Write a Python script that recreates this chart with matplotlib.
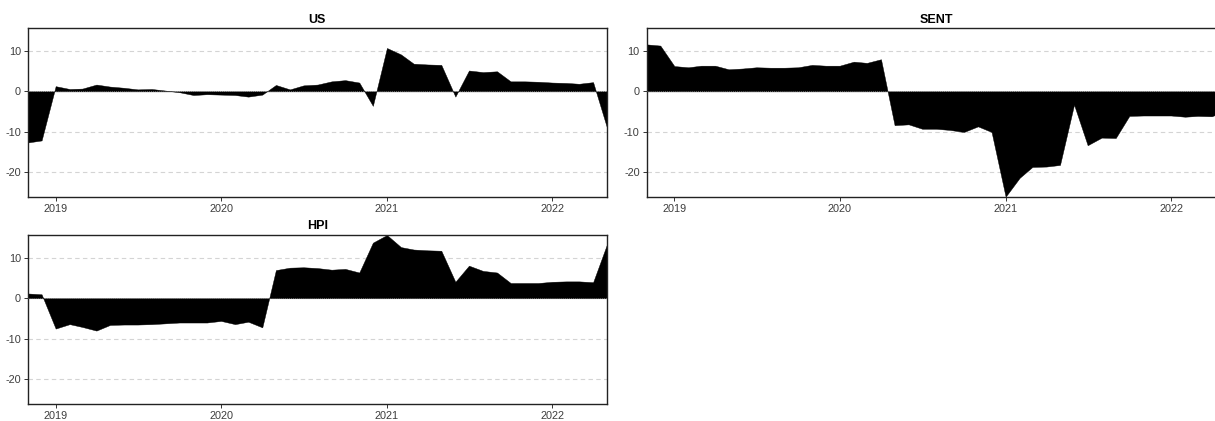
import numpy as np
import pandas as pd
import matplotlib
matplotlib.use("Agg")
import matplotlib.pyplot as plt
import matplotlib.dates as mdates

plt.rcParams['font.family'] = ['Liberation Sans', 'DejaVu Sans']
plt.rcParams['axes.unicode_minus'] = False

# monthly values, Nov 2018 .. May 2022
months = pd.date_range("2018-11-01", "2022-05-01", freq="MS")

us = [-12.7, -12.2, 1.3, 0.6, 0.7, 1.7, 1.2, 0.9, 0.5, 0.6, 0.2, -0.2,
      -0.9, -0.7, -0.8, -0.9, -1.3, -0.8, 1.6, 0.5, 1.5, 1.7, 2.5, 2.8,
      2.2, -3.6, 10.8, 9.2, 6.9, 6.7, 6.6, -1.3, 5.2, 4.8, 5.0, 2.5,
      2.5, 2.4, 2.2, 2.1, 1.9, 2.3, -8.8]

sent = [11.7, 11.4, 6.3, 6.0, 6.4, 6.4, 5.5, 5.7, 6.0, 5.9, 5.9, 6.0,
        6.6, 6.4, 6.4, 7.4, 7.1, 8.0, -8.4, -8.2, -9.3, -9.3, -9.6, -10.1,
        -8.7, -10.1, -26.2, -21.5, -18.8, -18.7, -18.3, -3.3, -13.4, -11.5, -11.6, -6.1,
        -6.0, -6.0, -6.0, -6.3, -6.1, -6.2, -4.8]

hpi = [1.2, 1.0, -7.5, -6.4, -7.1, -8.0, -6.6, -6.5, -6.5, -6.4, -6.2, -6.0,
       -6.0, -6.0, -5.6, -6.4, -5.8, -7.2, 7.0, 7.6, 7.7, 7.5, 7.1, 7.3,
       6.4, 13.8, 15.7, 12.7, 12.1, 11.9, 11.8, 4.1, 8.1, 6.8, 6.4, 3.8,
       3.8, 3.8, 4.1, 4.2, 4.2, 4.0, 13.2]

titles = ["US", "SENT", "HPI"]
series = [us, sent, hpi]
yticks = [-20, -10, 0, 10]

W, H = 1215, 421
fig = plt.figure(figsize=(W / 100, H / 100), dpi=100)

# axes boxes in pixels: left, top, right, bottom (SENT runs past the right edge)
boxes = [(28, 28.3, 606.7, 196.7),
         (646.7, 28.3, 1225.4, 196.7),
         (28, 235, 606.7, 404)]

ymin = min(min(s) for s in series)
ymax = max(max(s) for s in series)

for (l, t, r, b), name, vals in zip(boxes, titles, series):
    ax = fig.add_axes([l / W, 1 - b / H, (r - l) / W, (b - t) / H])
    for y in [-20, -10, 10]:
        ax.axhline(y, color='#d4d4d4', lw=0.8, ls=(0, (4, 3)), zorder=0)
    ax.fill_between(months, 0, vals, color='black', lw=0.3, zorder=2)
    ax.axhline(0, color='#666666', lw=0.7, ls=(0, (1, 1)), zorder=3)
    ax.set_xlim(months[0], months[-1])
    ax.set_ylim(ymin, ymax)
    ax.set_yticks(yticks)
    ax.xaxis.set_major_locator(mdates.YearLocator())
    ax.xaxis.set_major_formatter(mdates.DateFormatter('%Y'))
    ax.tick_params(length=3, width=0.7, color='#333333', labelsize=7.8,
                   labelcolor='#3d3d3d', pad=2)
    for sp in ax.spines.values():
        sp.set_color('#222222')
        sp.set_linewidth(1.0)
    ax.set_title(name, fontsize=9, fontweight='bold', pad=4)

fig.savefig("out.png", dpi=100)
